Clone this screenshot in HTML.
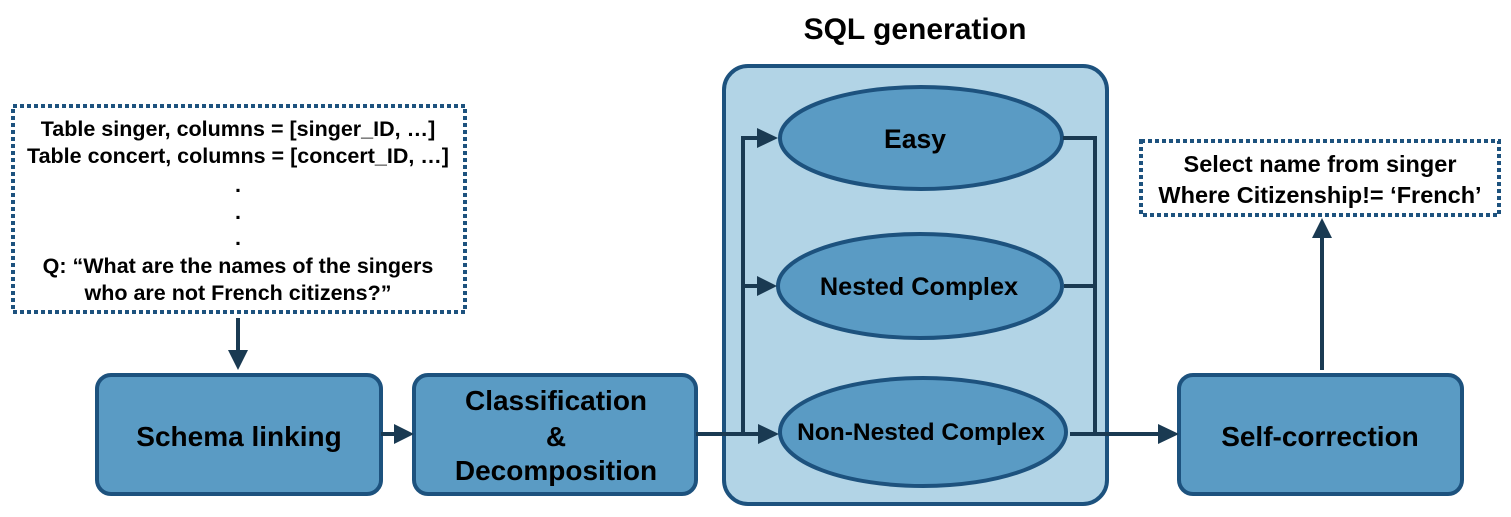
<!DOCTYPE html>
<html><head><style>body{margin:0;background:#fff}</style></head><body>
<svg width="1511" height="512" viewBox="0 0 1511 512" xmlns="http://www.w3.org/2000/svg" font-family="Liberation Sans, sans-serif" font-weight="bold">
<text x="915" y="39" font-size="30" text-anchor="middle" fill="#000">SQL generation</text>
<rect x="724" y="66" width="383" height="438" rx="24" fill="#b2d4e6" stroke="#1d527e" stroke-width="4"/>
<rect x="13" y="106" width="452" height="206" fill="#fff" stroke="#1d527e" stroke-width="4" stroke-dasharray="4,3"/>
<g font-size="21.5" text-anchor="middle" fill="#000">
<text x="238" y="136">Table singer, columns = [singer_ID, …]</text>
<text x="238" y="163">Table concert, columns = [concert_ID, …]</text>
<text x="238" y="192">.</text><text x="238" y="219">.</text><text x="238" y="245">.</text>
<text x="238" y="273">Q: “What are the names of the singers</text>
<text x="238" y="300">who are not French citizens?”</text>
</g>
<rect x="1141" y="141" width="358" height="74" fill="#fff" stroke="#1d527e" stroke-width="4" stroke-dasharray="4,3"/>
<text x="1320" y="172" font-size="23.5" text-anchor="middle">Select name from singer</text>
<text x="1320" y="203" font-size="23.5" text-anchor="middle">Where Citizenship!= ‘French’</text>
<g fill="#5a9bc4" stroke="#1d527e" stroke-width="4">
<rect x="97" y="375" width="284" height="119" rx="14"/>
<rect x="414" y="375" width="282" height="119" rx="14"/>
<rect x="1179" y="375" width="283" height="119" rx="14"/>
<ellipse cx="921" cy="138" rx="141" ry="51"/>
<ellipse cx="920" cy="286" rx="142" ry="52"/>
<ellipse cx="923" cy="432" rx="143" ry="54"/>
</g>
<g font-size="28" text-anchor="middle" fill="#000">
<text x="239" y="446">Schema linking</text>
<text x="556" y="410">Classification</text>
<text x="556" y="446">&amp;</text>
<text x="556" y="480">Decomposition</text>
<text x="1320" y="446">Self-correction</text>
<text x="915" y="148" font-size="26.5">Easy</text>
<text x="919" y="295" font-size="25.3">Nested Complex</text>
<text x="921" y="440" font-size="24.5">Non-Nested Complex</text>
</g>
<g stroke="#1a3a52" stroke-width="4" fill="none">
<line x1="238" y1="318" x2="238" y2="352"/>
<line x1="381" y1="434" x2="396" y2="434"/>
<line x1="696" y1="434" x2="760" y2="434"/>
<polyline points="759,138 743,138 743,434"/>
<line x1="743" y1="286" x2="759" y2="286"/>
<polyline points="1063,138 1095,138 1095,434"/>
<line x1="1064" y1="286" x2="1095" y2="286"/>
<line x1="1070" y1="434" x2="1160" y2="434"/>
<line x1="1322" y1="370" x2="1322" y2="236"/>
</g>
<g fill="#1a3a52">
<polygon points="228,350 248,350 238,370"/>
<polygon points="394,424 394,444 414,434"/>
<polygon points="758,424 758,444 779,434"/>
<polygon points="757,128 757,148 778,138"/>
<polygon points="757,276 757,296 777,286"/>
<polygon points="1158,424 1158,444 1179,434"/>
<polygon points="1312,238 1332,238 1322,218"/>
</g>
</svg>
</body></html>
